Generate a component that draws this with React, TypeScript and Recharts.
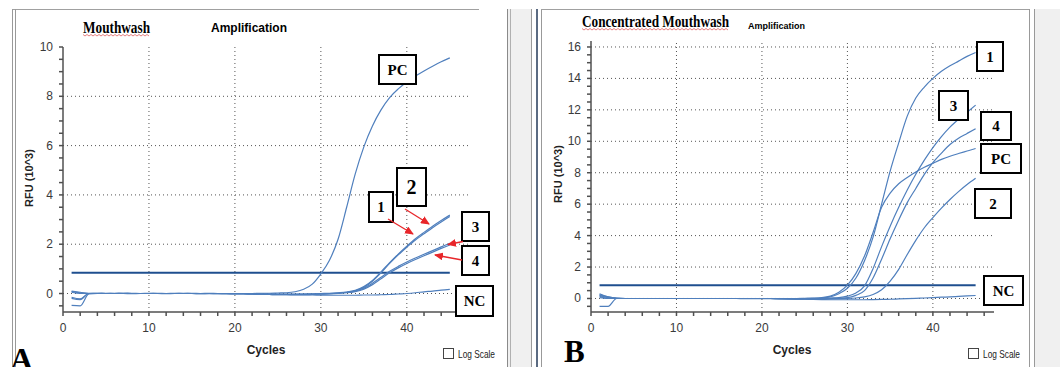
import React from "react"
import { Line, LineChart, ReferenceLine, XAxis, YAxis } from "recharts"

// cycle numbers on the x axis
const cycles = Array.from({ length: 45 }, (_, i) => i + 1)

// panel A - Mouthwash (RFU x 10^3)
const pcA = [
  0.08, 0.03, 0.01, 0.01, 0, 0, 0.01, 0, 0, 0.01,
  0, 0, 0.01, 0, 0, 0, 0.01, 0, 0, 0,
  0, 0, 0.01, 0.01, 0.02, 0.03, 0.07, 0.17, 0.38, 0.8,
  1.35, 2.2, 3.5, 4.85, 5.95, 6.8, 7.45, 7.95, 8.3, 8.58,
  8.82, 9.03, 9.22, 9.4, 9.56,
]
const s1A = [
  -0.15, -0.22, 0, 0, 0.01, 0, 0, -0.01, 0, 0,
  0, -0.01, 0, 0, 0, -0.01, 0, 0, 0, -0.01,
  -0.01, -0.01, -0.02, -0.02, -0.03, -0.03, -0.03, -0.02, -0.02, -0.01,
  0, 0.02, 0.05, 0.11, 0.25, 0.5, 0.84, 1.22, 1.57, 1.88,
  2.17, 2.42, 2.67, 2.9, 3.12,
]
const s2A = [
  0.05, 0, 0, 0.01, 0, 0, 0, 0.01, 0, 0,
  0.01, 0, 0, 0, 0.01, 0, 0, 0, 0, 0,
  0, -0.01, -0.01, -0.02, -0.02, -0.02, -0.02, -0.02, -0.01, 0,
  0.01, 0.03, 0.06, 0.13, 0.28, 0.53, 0.88, 1.25, 1.6, 1.92,
  2.22, 2.48, 2.73, 2.96, 3.18,
]
const s3A = [
  -0.48, -0.5, -0.02, 0, 0, 0.01, 0, 0, 0, 0,
  0, 0, 0, 0.01, 0, 0, 0, 0, -0.01, -0.01,
  -0.01, -0.02, -0.03, -0.03, -0.04, -0.04, -0.04, -0.04, -0.03, -0.02,
  -0.01, 0.01, 0.04, 0.1, 0.22, 0.42, 0.66, 0.9, 1.1, 1.28,
  1.44, 1.59, 1.74, 1.89, 2.04,
]
const s4A = [
  0.1, 0.05, 0, 0, 0, 0, 0.01, 0, 0, 0,
  0, 0, 0, 0, 0, 0, 0, -0.01, -0.01, -0.01,
  -0.01, -0.02, -0.03, -0.04, -0.05, -0.05, -0.05, -0.05, -0.04, -0.03,
  -0.02, 0, 0.03, 0.08, 0.18, 0.36, 0.6, 0.84, 1.04, 1.22,
  1.38, 1.53, 1.68, 1.83, 1.97,
]
const ncA = [
  -0.2, -0.25, 0, 0, 0, 0, 0, 0, 0, 0,
  0, 0, 0, 0, 0, -0.01, -0.01, -0.01, -0.01, -0.02,
  -0.02, -0.03, -0.03, -0.04, -0.05, -0.05, -0.06, -0.06, -0.06, -0.07,
  -0.07, -0.07, -0.07, -0.07, -0.06, -0.06, -0.05, -0.04, -0.02, 0,
  0.03, 0.07, 0.1, 0.14, 0.17,
]
const thresholdA = 0.84

// panel B - Concentrated Mouthwash
const pcB = [
  0.3, 0.1, 0.02, 0, 0, 0, 0, 0, 0, 0,
  0, 0, 0, 0, 0, 0, 0, 0, 0, 0,
  0, 0, 0, 0, 0.01, 0.02, 0.05, 0.15, 0.4, 0.85,
  1.6, 2.7, 4.2, 5.8, 6.7, 7.3, 7.7, 8.05, 8.35, 8.6,
  8.85, 9.05, 9.22, 9.38, 9.54,
]
const s1B = [
  0.2, 0.05, 0, 0, 0, 0, 0, 0, 0, 0,
  0, 0, 0, 0, 0, 0, 0, 0, 0, 0,
  0, 0, 0, -0.01, 0, 0.01, 0.03, 0.1, 0.3, 0.65,
  1.3, 2.4, 3.9, 6.0, 8.1, 9.9, 11.6, 12.75, 13.45, 14.0,
  14.45, 14.8, 15.1, 15.4, 15.65,
]
const s2B = [
  -0.5, -0.5, 0, 0, 0, 0, 0, 0, 0, 0,
  0, 0, 0, 0, 0, 0, 0, 0, 0, 0,
  0, -0.01, -0.02, -0.03, -0.03, -0.03, -0.03, -0.02, -0.01, 0,
  0.03, 0.1, 0.25, 0.55, 1.1, 1.85, 2.8, 3.7, 4.5, 5.15,
  5.75, 6.3, 6.8, 7.25, 7.65,
]
const s3B = [
  0.15, 0, 0, 0, 0, 0, 0, 0, 0, 0,
  0, 0, 0, 0, 0, 0, 0, 0, 0, 0,
  0, -0.01, -0.01, -0.02, -0.02, -0.01, 0, 0.03, 0.06, 0.15,
  0.35, 0.8, 1.9, 3.3, 4.6, 5.8, 6.9, 7.9, 8.8, 9.6,
  10.3, 10.9, 11.4, 11.85, 12.3,
]
const s4B = [
  0.05, 0, 0, 0, 0, 0, 0, 0, 0, 0,
  0, 0, 0, 0, 0, 0, 0, 0, 0, 0,
  0, -0.01, -0.02, -0.02, -0.03, -0.02, -0.01, 0, 0.02, 0.05,
  0.2, 0.5, 1.3, 2.5, 3.8, 5.0, 6.1, 7.0, 7.9, 8.65,
  9.25, 9.8, 10.2, 10.5, 10.8,
]
const ncB = [
  0.25, 0.1, 0.02, 0, 0, 0, 0, 0, 0, 0,
  0, 0, 0, 0, 0, 0, 0, -0.01, -0.01, -0.01,
  -0.01, -0.02, -0.03, -0.04, -0.05, -0.06, -0.07, -0.08, -0.08, -0.08,
  -0.08, -0.08, -0.07, -0.06, -0.05, -0.03, -0.01, 0.01, 0.03, 0.05,
  0.08, 0.1, 0.13, 0.16, 0.19,
]
const thresholdB = 0.84

// axis ticks
const xTicks = Array.from({ length: 24 }, (_, i) => i * 2)
const xGrid = [10, 20, 30, 40]
const yTicksA = Array.from({ length: 22 }, (_, i) => -0.5 + i * 0.5)
const yGridA = [0, 2, 4, 6, 8]
const yTicksB = Array.from({ length: 34 }, (_, i) => -0.5 + i * 0.5)
const yGridB = [0, 2, 4, 6, 8, 10, 12, 14, 16]

const sans = "'Liberation Sans', Arial, sans-serif"
const serif = "'Liberation Serif', 'Times New Roman', serif"
const curveColor = "#4f7fbd"
const axisColor = "#505050"

type Series = { key: string; values: number[] }

function buildRows(series: Series[]) {
  return cycles.map((c, i) => {
    const row: Record<string, number> = { cycle: c }
    series.forEach((s) => {
      row[s.key] = s.values[i]
    })
    return row
  })
}

const yTick = (props: any) => {
  const { x, y, payload } = props
  const v = payload.value
  if (v < 0 || Math.abs(v % 2) > 1e-6) return <g />
  return (
    <text x={x} y={y} dy={4} textAnchor="end" fontSize={12} fill="#3a3a3a" fontFamily={sans}>
      {v}
    </text>
  )
}

const xTick = (props: any) => {
  const { x, y, payload } = props
  if (payload.value % 10 !== 0) return <g />
  return (
    <text x={x} y={y} dy={14} textAnchor="middle" fontSize={12} fill="#3a3a3a" fontFamily={sans}>
      {payload.value}
    </text>
  )
}

type PanelProps = {
  left: number
  width: number
  margin: { top: number; right: number; bottom: number; left: number }
  yAxisWidth: number
  xDomain: [number, number]
  yDomain: [number, number]
  yTicks: number[]
  yGrid: number[]
  series: Series[]
  threshold: number
}

function AmpPanel(p: PanelProps) {
  const rows = buildRows(p.series)
  return (
    <div style={{ position: "absolute", left: p.left, top: 0 }}>
      <LineChart width={p.width} height={367} data={rows} margin={p.margin}>
        <XAxis
          xAxisId="b"
          dataKey="cycle"
          type="number"
          domain={p.xDomain}
          allowDataOverflow
          ticks={xTicks}
          interval={0}
          height={30}
          tickSize={4}
          tickMargin={2}
          stroke={axisColor}
          strokeWidth={1.5}
          tick={xTick}
        />
        <XAxis
          xAxisId="t"
          orientation="top"
          dataKey="cycle"
          type="number"
          domain={p.xDomain}
          allowDataOverflow
          ticks={xTicks}
          interval={0}
          height={0}
          tickSize={3}
          mirror
          tick={false}
          stroke={axisColor}
          strokeWidth={1.5}
        />
        <YAxis
          yAxisId="l"
          type="number"
          domain={p.yDomain}
          allowDataOverflow
          ticks={p.yTicks}
          interval={0}
          width={p.yAxisWidth}
          tickSize={4}
          tickMargin={6}
          stroke={axisColor}
          strokeWidth={1.5}
          tick={yTick}
        />
        <YAxis
          yAxisId="r"
          orientation="right"
          type="number"
          domain={p.yDomain}
          allowDataOverflow
          ticks={p.yTicks}
          interval={0}
          width={0}
          tickSize={3}
          mirror
          tick={false}
          stroke={axisColor}
          strokeWidth={1.5}
        />
        {p.yGrid.map((v) => (
          <ReferenceLine key={`gy${v}`} xAxisId="b" yAxisId="l" y={v} stroke="#555" strokeDasharray="1 3" />
        ))}
        {xGrid.map((v) => (
          <ReferenceLine key={`gx${v}`} xAxisId="b" yAxisId="l" x={v} stroke="#555" strokeDasharray="1 3" />
        ))}
        <ReferenceLine
          xAxisId="b"
          yAxisId="l"
          segment={[
            { x: cycles[0], y: p.threshold },
            { x: cycles[cycles.length - 1], y: p.threshold },
          ]}
          stroke="#1f4f8f"
          strokeWidth={2}
        />
        {p.series.map((s) => (
          <Line
            key={s.key}
            xAxisId="b"
            yAxisId="l"
            dataKey={s.key}
            type="monotone"
            stroke={curveColor}
            strokeWidth={1.2}
            dot={false}
            isAnimationActive={false}
          />
        ))}
      </LineChart>
    </div>
  )
}

function Box({ x, y, w, h, label, size = 15 }: { x: number; y: number; w: number; h: number; label: string; size?: number }) {
  return (
    <g>
      <rect x={x} y={y} width={w} height={h} fill="#fff" stroke="#000" strokeWidth={2} />
      <text
        x={x + w / 2}
        y={y + h / 2}
        dy={size * 0.34}
        textAnchor="middle"
        fontFamily={serif}
        fontWeight="bold"
        fontSize={size}
        fill="#000"
      >
        {label}
      </text>
    </g>
  )
}

function Squiggle({ x1, x2, y }: { x1: number; x2: number; y: number }) {
  const pts: string[] = []
  for (let x = x1, k = 0; x <= x2; x += 2, k++) pts.push(`${x},${y + (k % 2 ? 1 : -0.5)}`)
  return <polyline points={pts.join(" ")} fill="none" stroke="#e06060" strokeWidth={0.8} />
}

function Overlay() {
  const red = "#e8262a"
  return (
    <svg width={1060} height={367} style={{ position: "absolute", left: 0, top: 0, pointerEvents: "none" }}>
      <defs>
        <marker id="ah" markerUnits="userSpaceOnUse" markerWidth={9} markerHeight={8} refX={8} refY={4} orient="auto">
          <path d="M0,0 L9,4 L0,8 z" fill={red} />
        </marker>
      </defs>

      {/* panel A titles */}
      <text x={83} y={32.5} fontFamily={serif} fontWeight="bold" fontSize={16} textLength={67} lengthAdjust="spacingAndGlyphs">
        Mouthwash
      </text>
      <Squiggle x1={83} x2={150} y={35} />
      <text x={211} y={31.5} fontFamily={sans} fontWeight="bold" fontSize={13} textLength={76} lengthAdjust="spacingAndGlyphs">
        Amplification
      </text>
      <text
        transform="translate(33,178) rotate(-90)"
        textAnchor="middle"
        fontFamily={sans}
        fontWeight="bold"
        fontSize={11}
        fill="#222"
      >
        RFU (10^3)
      </text>
      <text x={266} y={354} textAnchor="middle" fontFamily={sans} fontWeight="bold" fontSize={12} fill="#222">
        Cycles
      </text>
      <rect x={443.5} y={348.5} width={10} height={10} fill="#fff" stroke="#444" />
      <text x={458} y={358} fontFamily={sans} fontSize={10.5} fill="#222" textLength={37} lengthAdjust="spacingAndGlyphs">
        Log Scale
      </text>
      <text x={10} y={370} fontFamily={serif} fontWeight="bold" fontSize={32} fill="#000">
        A
      </text>

      {/* panel A annotations */}
      <Box x={379} y={55} w={37} h={29} label="PC" />
      <Box x={397} y={168} w={29} h={38} label="2" size={20} />
      <Box x={369} y={192} w={24} h={30} label="1" />
      <Box x={462} y={212} w={27} h={29} label="3" />
      <Box x={462} y={246} w={27} h={29} label="4" />
      <Box x={456} y={286} w={37} h={30} label="NC" />
      <line x1={388} y1={219} x2={413} y2={234} stroke={red} strokeWidth={1.3} markerEnd="url(#ah)" />
      <line x1={405} y1={209} x2={429} y2={224} stroke={red} strokeWidth={1.3} markerEnd="url(#ah)" />
      <line x1={463} y1={241.5} x2={448} y2={244.5} stroke={red} strokeWidth={1.3} markerEnd="url(#ah)" />
      <line x1={462} y1={260} x2={435} y2={255} stroke={red} strokeWidth={1.3} markerEnd="url(#ah)" />

      {/* panel B titles */}
      <text x={582} y={26.5} fontFamily={serif} fontWeight="bold" fontSize={16} textLength={147} lengthAdjust="spacingAndGlyphs">
        Concentrated Mouthwash
      </text>
      <Squiggle x1={582} x2={729} y={29} />
      <text x={748} y={28.5} fontFamily={sans} fontWeight="bold" fontSize={9.5} textLength={57} lengthAdjust="spacingAndGlyphs">
        Amplification
      </text>
      <text
        transform="translate(562,174) rotate(-90)"
        textAnchor="middle"
        fontFamily={sans}
        fontWeight="bold"
        fontSize={11}
        fill="#222"
      >
        RFU (10^3)
      </text>
      <text x={792} y={354} textAnchor="middle" fontFamily={sans} fontWeight="bold" fontSize={12} fill="#222">
        Cycles
      </text>
      <rect x={968.5} y={348.5} width={10} height={10} fill="#fff" stroke="#444" />
      <text x={983} y={358} fontFamily={sans} fontSize={10.5} fill="#222" textLength={37} lengthAdjust="spacingAndGlyphs">
        Log Scale
      </text>
      <text x={564} y={362} fontFamily={serif} fontWeight="bold" fontSize={31} fill="#000">
        B
      </text>

      {/* panel B annotations */}
      <Box x={977} y={42} w={26} h={29} label="1" />
      <Box x={939} y={91} w={29} h={29} label="3" />
      <Box x={981} y={112} w={30} h={28} label="4" />
      <Box x={981} y={144} w={40} h={29} label="PC" />
      <Box x={975} y={189} w={36} h={29} label="2" />
      <Box x={984} y={276} w={39} h={29} label="NC" />
    </svg>
  )
}

export default function App() {
  const seriesA: Series[] = [
    { key: "pc", values: pcA },
    { key: "s1", values: s1A },
    { key: "s2", values: s2A },
    { key: "s3", values: s3A },
    { key: "s4", values: s4A },
    { key: "nc", values: ncA },
  ]
  const seriesB: Series[] = [
    { key: "pc", values: pcB },
    { key: "s1", values: s1B },
    { key: "s2", values: s2B },
    { key: "s3", values: s3B },
    { key: "s4", values: s4B },
    { key: "nc", values: ncB },
  ]
  return (
    <div style={{ position: "absolute", left: 0, top: 0, width: 1060, height: 367, background: "#fff", overflow: "hidden" }}>
      {/* window frames */}
      <div style={{ position: "absolute", left: 12, top: 9, width: 467, height: 1, background: "#a0a0a0" }} />
      <div style={{ position: "absolute", left: 12, top: 9, width: 2, height: 358, borderLeft: "1px solid #999", borderRight: "1px solid #999" }} />
      <div style={{ position: "absolute", left: 507, top: 9, width: 23, height: 358, background: "#f0f0f0", borderLeft: "1px solid #8a8a8a", borderRight: "1px solid #9a9a9a" }} />
      <div style={{ position: "absolute", left: 510, top: 9, width: 1, height: 358, background: "#b0b0b0" }} />
      <div style={{ position: "absolute", left: 536, top: 9, width: 2, height: 358, background: "#5b6b82" }} />
      <div style={{ position: "absolute", left: 541, top: 9, width: 1, height: 358, background: "#999" }} />
      <div style={{ position: "absolute", left: 541, top: 9, width: 488, height: 1, background: "#a0a0a0" }} />
      <div style={{ position: "absolute", left: 1029, top: 9, width: 1, height: 358, background: "#999" }} />
      <div style={{ position: "absolute", left: 1034, top: 9, width: 26, height: 358, background: "#f0f0f0", borderLeft: "1px solid #999" }} />

      <AmpPanel
        left={0}
        width={510}
        margin={{ top: 47, right: 40, bottom: 25, left: 0 }}
        yAxisWidth={63}
        xDomain={[0, 47.35]}
        yDomain={[-0.75, 10]}
        yTicks={yTicksA}
        yGrid={yGridA}
        series={seriesA}
        threshold={thresholdA}
      />
      <AmpPanel
        left={530}
        width={530}
        margin={{ top: 41, right: 66, bottom: 25, left: 0 }}
        yAxisWidth={61}
        xDomain={[0, 47.15]}
        yDomain={[-0.86, 16.38]}
        yTicks={yTicksB}
        yGrid={yGridB}
        series={seriesB}
        threshold={thresholdB}
      />
      <Overlay />
    </div>
  )
}
